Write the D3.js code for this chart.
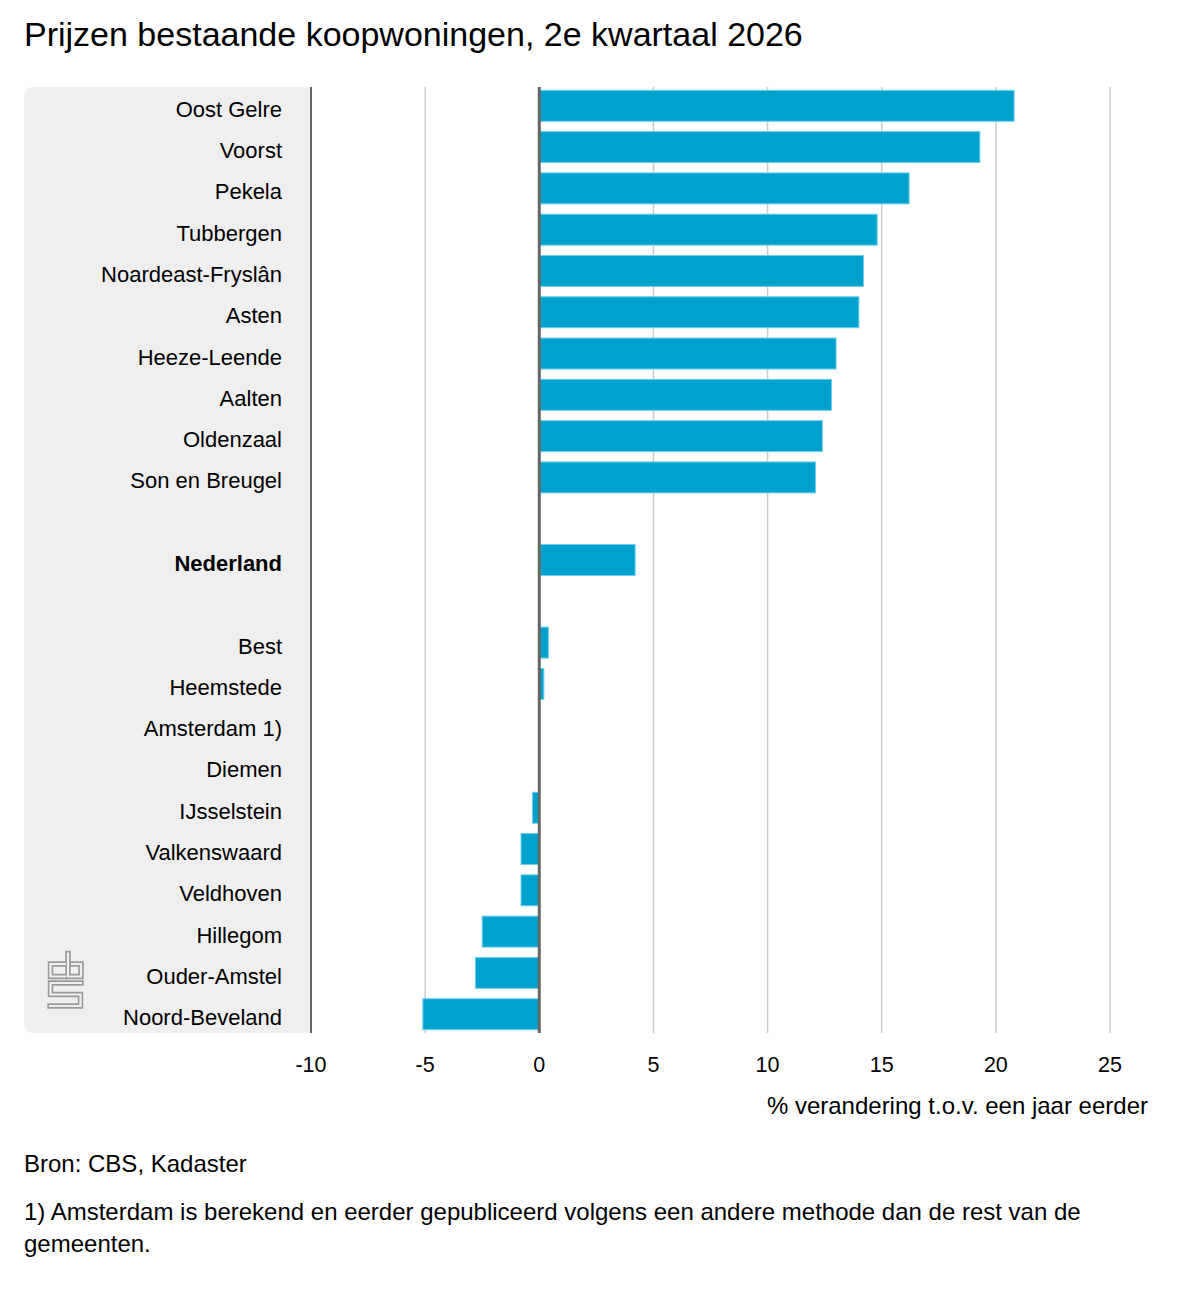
<!DOCTYPE html>
<html>
<head>
<meta charset="utf-8">
<script src="https://cdn.jsdelivr.net/npm/d3@7"></script>
<style>
  body { margin: 0; background: #fff; }
  svg text { font-family: "Liberation Sans", Arial, Helvetica, sans-serif; fill: #000; }
</style>
</head>
<body>
<div id="chart"></div>
<script>
// hoogste stijgers
const topGemeenten = ["Oost Gelre", "Voorst", "Pekela", "Tubbergen", "Noardeast-Fryslân",
  "Asten", "Heeze-Leende", "Aalten", "Oldenzaal", "Son en Breugel"];
const topWaarden = [20.8, 19.3, 16.2, 14.8, 14.2, 14.0, 13.0, 12.8, 12.4, 12.1];

// landelijk
const landNaam = "Nederland";
const landWaarde = 4.2;

// laagste
const laagGemeenten = ["Best", "Heemstede", "Amsterdam 1)", "Diemen", "IJsselstein",
  "Valkenswaard", "Veldhoven", "Hillegom", "Ouder-Amstel", "Noord-Beveland"];
const laagWaarden = [0.4, 0.2, 0, 0, -0.3, -0.8, -0.8, -2.5, -2.8, -5.1];

const xTicks = [-10, -5, 0, 5, 10, 15, 20, 25];

const title = "Prijzen bestaande koopwoningen, 2e kwartaal 2026";
const xTitle = "% verandering t.o.v. een jaar eerder";
const bron = "Bron: CBS, Kadaster";
const voetnoot = ["1) Amsterdam is berekend en eerder gepubliceerd volgens een andere methode dan de rest van de",
  "gemeenten."];

const width = 1200, height = 1300;
const plot = {left: 311, right: 1110, top: 87, bottom: 1033};
const panelLeft = 24;

// rows incl. two empty spacer slots
const rows = [
  ...topGemeenten.map((g, i) => ({key: g, label: g, value: topWaarden[i], bold: false})),
  {key: "_gap1", spacer: true},
  {key: landNaam, label: landNaam, value: landWaarde, bold: true},
  {key: "_gap2", spacer: true},
  ...laagGemeenten.map((g, i) => ({key: g, label: g, value: laagWaarden[i], bold: false}))
];
const data = rows.filter(d => !d.spacer);

const svg = d3.select("#chart").append("svg")
    .attr("width", width)
    .attr("height", height);

const x = d3.scaleLinear()
    .domain([-10, 25])
    .range([plot.left, plot.right]);

const y = d3.scaleBand()
    .domain(rows.map(d => d.key))
    .range([plot.top, plot.bottom])
    .paddingInner(0.25)
    .paddingOuter(0.08);

// title
svg.append("text")
    .attr("x", 24)
    .attr("y", 46)
    .style("font-size", "34px")
    .text(title);

// grey label panel, rounded on the left
const r = 10;
svg.append("path")
    .attr("d", `M${plot.left},${plot.top} H${panelLeft + r} Q${panelLeft},${plot.top} ${panelLeft},${plot.top + r}
      V${plot.bottom - r} Q${panelLeft},${plot.bottom} ${panelLeft + r},${plot.bottom} H${plot.left} Z`)
    .attr("fill", "#efefef");

// cbs logo (outlined strokes)
const logo = svg.append("g").attr("transform", "translate(48,952)");
const logoPaths = [
  "M17,12 H2.5 V24.5 H17",
  "M20,1.5 V24.5 H33 V12 H24",
  "M33,31 H2.5 V42.5 H32.5 V54 H2"
];
logoPaths.forEach(p => {
  logo.append("path").attr("d", p).attr("fill", "none")
      .attr("stroke", "#9a9a9a").attr("stroke-width", 5.5).attr("stroke-linecap", "square");
});
logoPaths.forEach(p => {
  logo.append("path").attr("d", p).attr("fill", "none")
      .attr("stroke", "#efefef").attr("stroke-width", 2.2).attr("stroke-linecap", "square");
});

// gridlines
svg.append("g").selectAll("line")
    .data(xTicks.filter(t => t !== 0 && t !== -10))
  .join("line")
    .attr("x1", d => x(d)).attr("x2", d => x(d))
    .attr("y1", plot.top).attr("y2", plot.bottom)
    .attr("stroke", "#cccccc")
    .attr("stroke-width", 1.5);

// category labels
svg.append("g").selectAll("text")
    .data(data)
  .join("text")
    .attr("x", 282)
    .attr("y", d => y(d.key) + y.bandwidth() / 2)
    .attr("dy", "0.5em")
    .attr("text-anchor", "end")
    .style("font-size", "22px")
    .style("font-weight", d => d.bold ? "bold" : "normal")
    .text(d => d.label);

// bars
svg.append("g").selectAll("rect")
    .data(data.filter(d => d.value !== 0))
  .join("rect")
    .attr("x", d => x(Math.min(0, d.value)))
    .attr("y", d => y(d.key))
    .attr("width", d => Math.abs(x(d.value) - x(0)))
    .attr("height", y.bandwidth())
    .attr("fill", "#00a1cd")
    .attr("stroke", "#6fd0ea")
    .attr("stroke-width", 1);

// axis line and zero line
svg.append("line")
    .attr("x1", x(-10)).attr("x2", x(-10))
    .attr("y1", plot.top).attr("y2", plot.bottom)
    .attr("stroke", "#666").attr("stroke-width", 2);
svg.append("line")
    .attr("x1", x(0)).attr("x2", x(0))
    .attr("y1", plot.top).attr("y2", plot.bottom)
    .attr("stroke", "#666").attr("stroke-width", 3);

// tick labels
svg.append("g").selectAll("text")
    .data(xTicks)
  .join("text")
    .attr("x", d => x(d))
    .attr("y", 1072)
    .attr("text-anchor", "middle")
    .style("font-size", "21.5px")
    .text(d => d);

svg.append("text")
    .attr("x", 1148)
    .attr("y", 1114)
    .attr("text-anchor", "end")
    .style("font-size", "24px")
    .text(xTitle);

svg.append("text")
    .attr("x", 24)
    .attr("y", 1172)
    .style("font-size", "24px")
    .text(bron);

svg.append("g").selectAll("text")
    .data(voetnoot)
  .join("text")
    .attr("x", 24)
    .attr("y", (d, i) => 1220 + i * 32)
    .style("font-size", "24px")
    .text(d => d);
</script>
</body>
</html>
